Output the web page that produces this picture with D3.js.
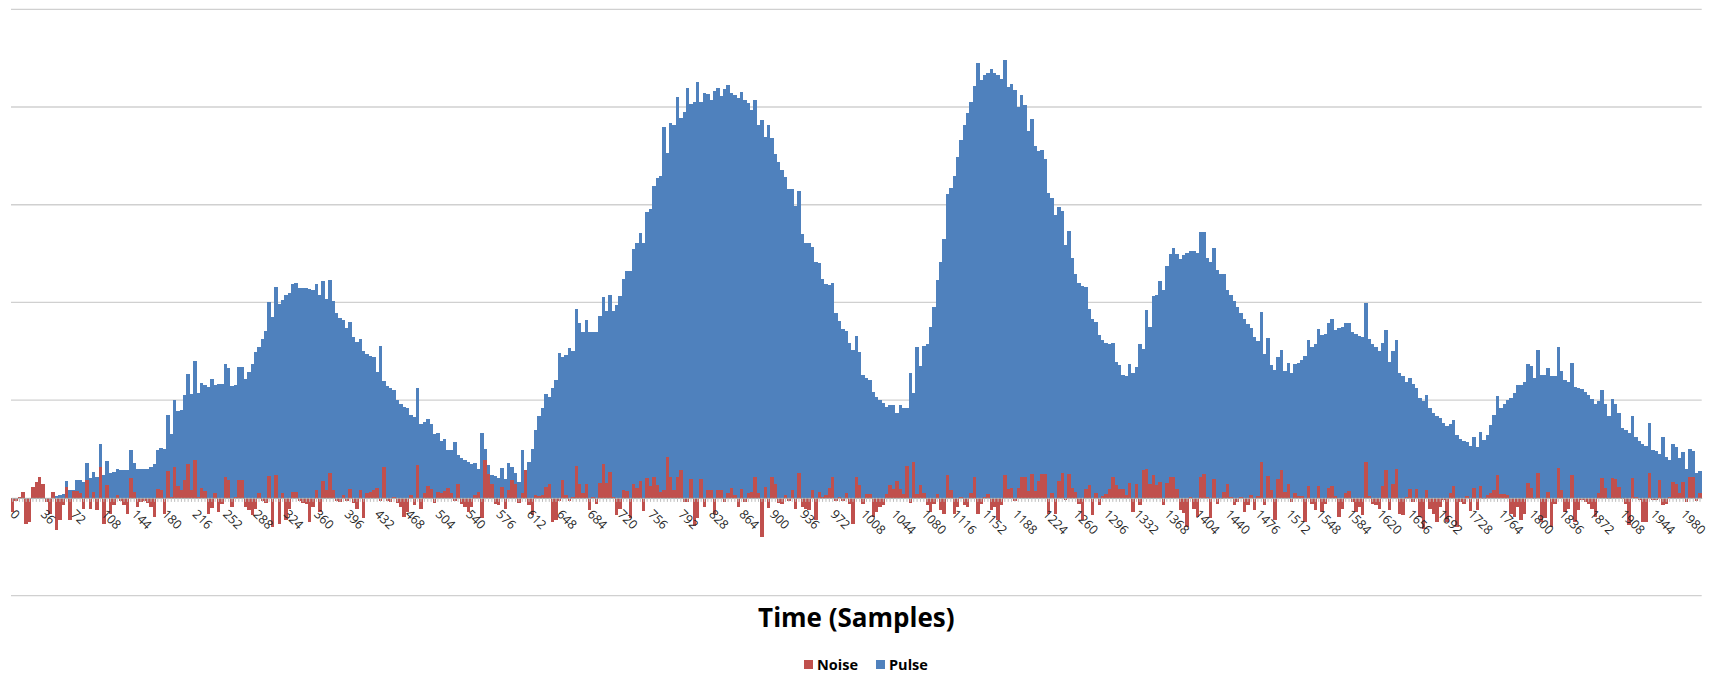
<!DOCTYPE html>
<html>
<head>
<meta charset="utf-8">
<script src="https://cdn.jsdelivr.net/npm/d3@7"></script>
<style>
  body { margin: 0; background: #fff; }
  svg { display: block; font-family: "Open Sans", "Liberation Sans", sans-serif; }
</style>
</head>
<body>
<svg id="chart" width="1709" height="673"></svg>
<script>
// ---------------- data (one value per bar) ----------------
// samples run 0..2000, one bar every 4 samples
let categories = d3.range(0, 2001, 4);

let tickLabels = [0,36,72,108,144,180,216,252,288,324,360,396,432,468,504,540,576,612,648,684,
  720,756,792,828,864,900,936,972,1008,1044,1080,1116,1152,1188,1224,1260,1296,1332,1368,1404,
  1440,1476,1512,1548,1584,1620,1656,1692,1728,1764,1800,1836,1872,1908,1944,1980];

let gridValues = [-20, 20, 40, 60, 80, 100];

let pulse = [
  0,0,0,0,0,0,0,0,0,0,0,0,0.2,0.3,0.5,0.7,3.4,1.6,1.6,3.6,
  3.6,3.3,7.2,4.0,5.2,4.3,11.0,4.6,7.5,5.1,5.2,6.0,5.7,5.7,5.8,9.9,7.2,6.0,6.0,6.0,
  6.0,6.3,6.9,9.8,10.3,10.1,16.9,13.0,20.0,17.8,17.9,21.0,25.3,21.2,28.0,21.4,23.6,23.1,22.6,24.4,
  23.1,23.3,23.3,27.4,26.5,22.9,23.1,26.7,26.8,24.4,25.8,27.4,29.9,30.8,32.5,34.1,40.0,37.1,43.1,39.6,
  40.6,41.6,42.0,43.7,43.9,43.0,43.0,42.9,42.7,42.5,43.7,41.6,44.4,40.8,44.6,40.3,37.9,36.8,36.5,34.7,
  36.0,33.0,31.9,32.6,30.1,29.4,29.1,28.9,25.8,31.0,24.0,22.9,22.4,22.0,20.0,19.3,18.6,18.3,16.9,16.6,
  22.4,15.2,15.6,16.2,15.2,13.0,13.2,11.6,12.1,9.8,9.8,11.5,8.7,8.1,7.7,7.4,6.9,7.2,6.0,13.2,
  10.1,6.7,4.6,4.4,4.0,6.2,3.8,7.2,6.3,5.0,3.3,9.9,5.7,7.4,10.1,13.9,16.7,18.3,21.2,20.7,
  22.4,24.2,29.7,28.9,29.2,30.6,30.1,38.6,35.7,34.0,36.5,34.0,34.0,34.0,37.2,41.1,38.3,41.5,38.3,39.4,
  41.3,44.8,46.5,46.5,51.0,52.1,54.3,52.2,58.5,59.1,63.8,65.4,65.9,75.9,70.5,76.8,76.4,82.1,77.8,79.0,
  83.8,80.7,81.1,85.2,81.1,82.8,82.6,81.5,83.2,83.8,82.2,83.6,84.6,82.9,82.4,81.9,83.0,81.5,80.9,79.4,
  81.4,76.3,77.4,73.8,76.4,73.6,70.4,68.8,67.1,65.7,63.3,63.2,59.8,62.8,54.0,52.1,52.1,51.4,48.3,48.0,
  44.9,43.7,43.5,43.9,37.9,36.2,34.5,34.2,31.6,30.2,33.1,29.9,25.1,24.6,24.1,21.7,20.7,20.0,19.4,18.6,
  19.0,19.1,17.4,19.0,18.3,18.3,25.6,21.4,30.9,27.0,31.0,31.5,34.9,39.1,44.6,48.3,52.9,62.2,63.5,65.9,
  69.7,73.2,76.4,78.8,81.1,84.3,89.0,85.6,86.5,86.9,87.7,87.0,86.5,85.8,89.7,84.1,84.8,83.5,80.0,82.4,
  80.4,75.1,77.5,72.0,71.0,71.3,69.3,62.3,61.3,57.9,59.6,58.8,51.7,54.7,49.0,45.9,43.9,43.3,43.1,38.6,
  36.7,36.0,33.3,32.4,31.6,31.5,31.6,27.8,27.2,25.1,24.9,27.4,25.6,26.8,31.5,30.4,38.4,35.0,41.4,41.5,
  44.4,42.6,47.5,50.0,51.2,50.0,48.8,49.7,50.2,50.5,50.6,50.2,54.5,54.5,49.2,48.3,51.2,46.7,45.8,45.9,
  42.6,41.5,40.3,39.1,37.9,36.7,35.6,34.7,33.0,32.1,38.1,29.4,32.8,27.2,26.1,28.9,30.2,26.0,27.7,25.5,
  27.4,27.6,28.3,29.1,32.3,30.9,31.5,34.5,33.3,33.6,35.7,36.7,34.3,34.7,34.9,35.7,35.8,34.0,33.6,33.1,
  33.0,39.9,32.6,31.5,30.9,30.1,31.7,34.3,27.8,30.1,32.4,25.5,24.9,23.7,24.6,23.4,22.4,20.5,19.9,21.0,
  18.3,17.3,16.7,16.4,15.4,14.7,15.1,15.9,12.8,12.1,11.7,11.5,10.6,12.5,10.4,13.5,11.9,12.8,14.9,16.9,
  20.9,18.3,19.3,20.1,20.5,21.5,23.1,23.1,23.7,27.5,27.0,24.6,30.2,25.1,25.1,26.5,24.9,24.9,30.8,26.0,
  24.1,23.7,27.7,22.7,22.4,22.2,21.7,21.0,20.3,19.2,19.9,22.0,19.3,16.7,20.3,19.2,17.3,14.4,13.9,13.2,
  16.7,12.5,11.7,11.0,10.6,15.4,9.9,9.6,8.9,12.5,8.4,7.7,11.0,10.4,8.1,9.4,6.0,10.1,9.6,5.0,
  5.5
];

let noise = [
  -2.9,-0.6,0.2,1.2,-5.3,-4.9,2.3,3.3,4.3,2.8,-0.8,-3.2,1.2,-6.6,-4.6,-1.5,2.3,-4.6,1.4,1.4,
  0.9,-2.2,3.6,-2.2,1.2,-2.5,6.3,-5.3,2.6,-3.2,-1.5,0.5,-0.6,-1.5,-3.2,4.0,1.2,-1.8,-0.8,-0.6,
  -1.0,-1.8,-3.9,1.9,1.6,-3.2,5.5,0.2,6.3,2.4,1.6,3.6,7.0,1.6,7.7,0.2,2.1,1.4,-3.2,-2.0,
  0.9,-2.9,-1.2,4.2,3.6,-1.8,0.2,3.6,3.6,-1.8,-2.5,-3.5,-2.2,0.9,-0.6,-1.0,4.4,-5.9,4.6,-5.3,
  1.0,-4.6,-2.2,1.2,1.2,-0.6,-1.0,-1.2,-4.9,-1.8,1.6,-2.9,3.5,1.6,5.0,1.6,-0.6,-0.8,0.5,-0.6,
  1.9,-1.0,-2.2,1.7,-4.2,0.9,1.2,1.7,2.1,-0.6,6.3,-0.6,-0.8,0.2,-1.0,-1.8,-3.9,-2.9,0.5,-1.5,
  6.7,-2.2,0.9,2.4,1.9,-1.0,1.2,0.9,1.4,2.1,0.9,-0.6,2.8,-1.2,-1.8,-2.9,-1.8,0.5,1.2,-4.2,
  7.8,4.8,2.8,-1.2,-1.4,2.3,-2.2,1.6,3.6,2.9,-1.0,0.9,5.8,-1.5,-3.5,0.5,0.3,0.5,2.3,2.8,
  -4.9,-4.6,-0.6,3.6,0.5,-0.6,0.1,6.5,2.8,0.9,2.8,-2.5,0.1,-1.2,3.1,6.9,3.1,5.3,0.2,-3.5,
  -2.2,1.7,1.4,-4.2,2.9,2.1,3.5,-2.7,4.0,2.4,4.3,2.6,1.2,1.6,8.4,4.3,1.7,4.3,5.8,-0.8,
  -0.8,3.8,-5.8,-4.2,3.8,-1.8,1.6,1.6,-3.2,1.6,1.6,-0.8,1.0,2.1,0.5,-1.8,1.9,-0.8,0.9,1.2,
  4.2,0.9,-8.0,2.3,-2.0,4.3,2.9,-1.0,-1.2,0.5,-0.6,1.6,-2.2,5.0,-1.8,-2.2,-2.5,1.6,-4.6,1.2,
  0.1,0.5,2.1,4.3,-0.6,0.1,-0.6,1.0,-1.2,-5.3,4.3,2.6,-1.2,0.8,0.8,-3.9,-2.9,-1.8,-1.5,0.8,
  2.6,1.9,3.5,1.9,0.8,6.5,-1.0,7.4,0.8,2.6,0.9,-1.5,-2.9,-1.3,0.8,-2.5,-3.2,4.6,1.6,-3.2,
  -1.8,0.2,-1.5,-1.8,0.9,4.3,-3.2,-1.3,0.2,0.8,-2.5,-1.8,-4.6,-1.5,4.6,1.9,2.1,-0.6,2.1,4.2,
  4.2,1.4,4.8,1.4,3.5,4.8,4.8,-3.2,0.9,-3.2,3.5,5.0,-0.5,4.8,2.1,1.2,-1.2,-4.6,1.9,2.6,
  -3.5,1.0,-1.5,0.3,0.8,1.9,4.2,2.6,1.9,1.9,0.5,3.1,-2.9,2.9,-1.5,5.7,6.0,2.9,4.6,2.6,
  3.3,-1.5,3.1,4.2,4.2,1.9,-2.5,-3.1,-5.9,0.1,-2.2,-3.9,4.2,4.8,0.1,-4.2,3.8,-1.2,-0.3,1.2,
  2.8,0.1,-1.5,-0.8,0.1,-2.9,-1.5,0.5,-2.5,0.3,7.4,-1.5,4.4,1.6,-4.6,3.8,5.7,1.2,2.9,-0.8,
  0.9,0.3,0.3,-4.9,2.4,-1.2,-2.5,2.4,-2.9,-1.2,2.1,2.4,0.3,-3.9,-2.2,0.9,1.4,-0.8,-2.9,-1.8,
  -3.5,7.4,0.3,-1.2,-1.5,-2.2,2.4,5.7,-2.5,2.8,6.0,-3.2,-3.5,0.1,1.9,-0.8,1.9,-3.9,-6.3,1.7,
  -2.2,-3.2,-4.9,-1.8,-0.5,-4.9,1.0,2.4,-5.9,-0.8,-1.3,0.3,-2.7,2.1,-2.5,2.4,-0.3,0.5,0.9,1.7,
  4.6,0.8,0.8,0.5,-3.2,-3.9,-1.8,-4.6,-3.2,3.1,2.1,-0.3,5.1,-4.9,-4.2,1.2,-5.9,-1.3,6.2,1.7,
  -2.9,-2.2,4.6,-4.9,-2.5,-0.5,-0.8,-1.3,-2.2,-3.9,1.0,4.0,2.1,-0.3,4.0,3.8,2.3,-0.3,-1.3,-5.6,
  4.0,0.2,-0.5,-4.9,-4.9,5.1,-0.5,-0.5,3.6,-1.5,-1.2,0.2,3.3,2.9,1.0,3.3,-0.8,4.2,4.2,-0.7,
  0.9
];

let blue = "#4F81BD";
let red = "#C0504D";

// ---------------- scales ----------------
let svg = d3.select("#chart");
let plotLeft = 11, plotRight = 1701.7;

let x = d3.scaleBand()
    .domain(categories)
    .range([plotLeft, plotRight])
    .paddingInner(0)
    .paddingOuter(0);

let y = d3.scaleLinear()
    .domain([-20, 100])
    .range([595.6, 9.3]);

// gridlines
svg.append("g")
    .selectAll("line")
    .data(gridValues)
    .enter().append("line")
    .attr("x1", plotLeft)
    .attr("x2", plotRight)
    .attr("y1", d => y(d))
    .attr("y2", d => y(d))
    .attr("stroke", "#d0d0d0")
    .attr("stroke-width", 1.3);

// bars: pulse behind, noise in front (crisp edges so neighbours join without seams)
function drawBars(values, color, cls) {
    svg.append("g")
        .attr("class", cls)
        .attr("shape-rendering", "crispEdges")
        .selectAll("rect")
        .data(values)
        .enter().append("rect")
        .attr("x", (d, i) => x(categories[i]))
        .attr("width", x.bandwidth() + 0.05)
        .attr("y", d => y(Math.max(0, d)))
        .attr("height", d => Math.abs(y(d) - y(0)))
        .attr("fill", color);
}
drawBars(pulse, blue, "pulse");
drawBars(noise, red, "noise");

// category axis: a small tick under every bar
let minorAxis = svg.append("g")
    .attr("transform", "translate(0," + y(0) + ")")
    .call(d3.axisBottom(x).tickValues(categories).tickSize(4).tickSizeOuter(0).tickFormat(""));
minorAxis.select(".domain").attr("stroke", "#a6a6a6");
minorAxis.selectAll(".tick line").attr("stroke", "#bdbdbd");

// labels every 36 samples, turned 45 degrees
let labelAxis = svg.append("g")
    .attr("transform", "translate(0," + y(0) + ")")
    .call(d3.axisBottom(x).tickValues(tickLabels).tickSize(0).tickSizeOuter(0));
labelAxis.select(".domain").remove();
labelAxis.selectAll(".tick text")
    .attr("x", 0)
    .attr("y", 0)
    .attr("dy", "0.35em")
    .attr("transform", "translate(0,14) rotate(45)")
    .attr("text-anchor", "start")
    .attr("font-size", "12.5px")
    .attr("font-family", "'Open Sans', sans-serif")
    .attr("fill", "#262626");

// axis title
svg.append("text")
    .attr("x", (plotLeft + plotRight) / 2)
    .attr("y", 627)
    .attr("text-anchor", "middle")
    .attr("font-size", "26px")
    .attr("font-weight", "bold")
    .attr("fill", "#000")
    .text("Time (Samples)");

// legend
let legendItems = [{name: "Noise", color: red, x: 804}, {name: "Pulse", color: blue, x: 876}];
let legend = svg.append("g");
legendItems.forEach(item => {
    legend.append("rect")
        .attr("x", item.x)
        .attr("y", 660)
        .attr("width", 9)
        .attr("height", 9)
        .attr("fill", item.color);
    legend.append("text")
        .attr("x", item.x + 13)
        .attr("y", 669.5)
        .attr("font-size", "14.5px")
        .attr("font-weight", "bold")
        .attr("fill", "#000")
        .text(item.name);
});
</script>
</body>
</html>
